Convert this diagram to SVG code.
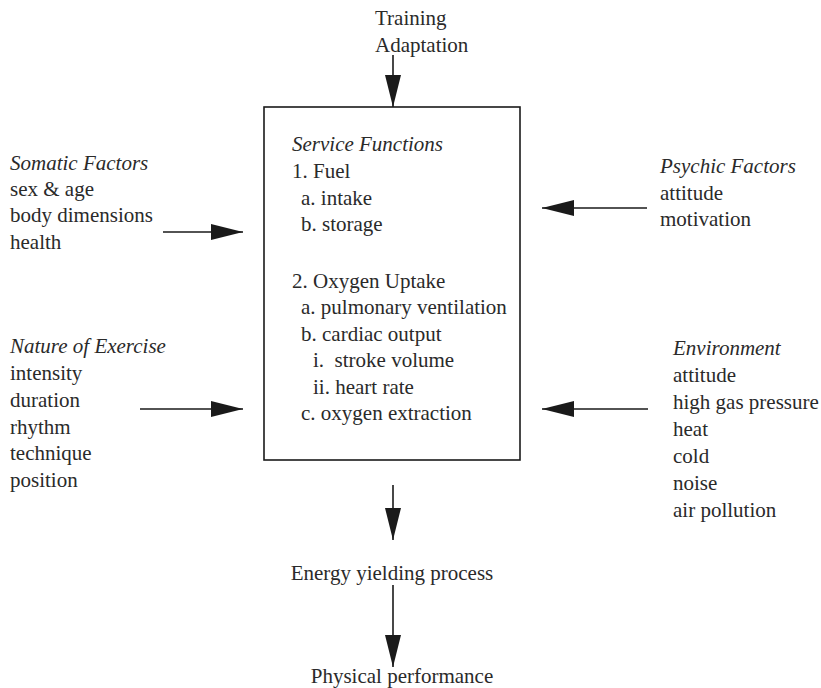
<svg xmlns="http://www.w3.org/2000/svg" width="821" height="688" viewBox="0 0 821 688">
<style>
text{font-family:"Liberation Serif","Times New Roman",serif;font-size:21px;fill:#2a2a2a}
.it{font-style:italic}
.mid{text-anchor:middle}
.conn{stroke:#1a1a1a;stroke-width:1.6;fill:none;marker-end:url(#ah)}
.box{fill:#fff;stroke:#1a1a1a;stroke-width:1.6}
</style>
<defs>
<marker id="ah" markerUnits="userSpaceOnUse" markerWidth="34" markerHeight="18" refX="32" refY="8" orient="auto">
<path d="M0,0 L32,8 L0,16 z" fill="#1a1a1a"/>
</marker>
</defs>
<rect width="821" height="688" fill="#fff"/>
<g id="connectors">
<line class="conn" x1="393" y1="55" x2="393" y2="107"/>
<line class="conn" x1="163" y1="232" x2="243" y2="232"/>
<line class="conn" x1="647" y1="208" x2="542" y2="208"/>
<line class="conn" x1="140" y1="409" x2="243" y2="409"/>
<line class="conn" x1="648" y1="409" x2="542" y2="409"/>
<line class="conn" x1="393" y1="485" x2="393" y2="540"/>
<line class="conn" x1="393" y1="585" x2="393" y2="667"/>
</g>
<g id="training">
<text x="375" y="25">Training</text>
<text x="375" y="52">Adaptation</text>
</g>
<g id="service">
<rect class="box" x="264" y="107" width="256" height="353"/>
<text class="it" x="292" y="151">Service Functions</text>
<text x="292" y="178">1. Fuel</text>
<text x="301" y="205">a. intake</text>
<text x="301" y="231">b. storage</text>
<text x="292" y="288">2. Oxygen Uptake</text>
<text x="301" y="314">a. pulmonary ventilation</text>
<text x="301" y="341">b. cardiac output</text>
<text x="313" y="367" xml:space="preserve">i.  stroke volume</text>
<text x="313" y="394">ii. heart rate</text>
<text x="301" y="420">c. oxygen extraction</text>
</g>
<g id="somatic">
<text class="it" x="10" y="170">Somatic Factors</text>
<text x="10" y="196">sex &amp; age</text>
<text x="10" y="222">body dimensions</text>
<text x="10" y="249">health</text>
</g>
<g id="psychic">
<text class="it" x="660" y="173">Psychic Factors</text>
<text x="660" y="200">attitude</text>
<text x="660" y="226">motivation</text>
</g>
<g id="exercise">
<text class="it" x="10" y="353">Nature of Exercise</text>
<text x="10" y="380">intensity</text>
<text x="10" y="407">duration</text>
<text x="10" y="434">rhythm</text>
<text x="10" y="460">technique</text>
<text x="10" y="487">position</text>
</g>
<g id="environment">
<text class="it" x="673" y="355">Environment</text>
<text x="673" y="382">attitude</text>
<text x="673" y="409">high gas pressure</text>
<text x="673" y="436">heat</text>
<text x="673" y="463">cold</text>
<text x="673" y="490">noise</text>
<text x="673" y="517">air pollution</text>
</g>
<g id="energy">
<text class="mid" x="392" y="580">Energy yielding process</text>
</g>
<g id="performance">
<text class="mid" x="402" y="683">Physical performance</text>
</g>
</svg>
